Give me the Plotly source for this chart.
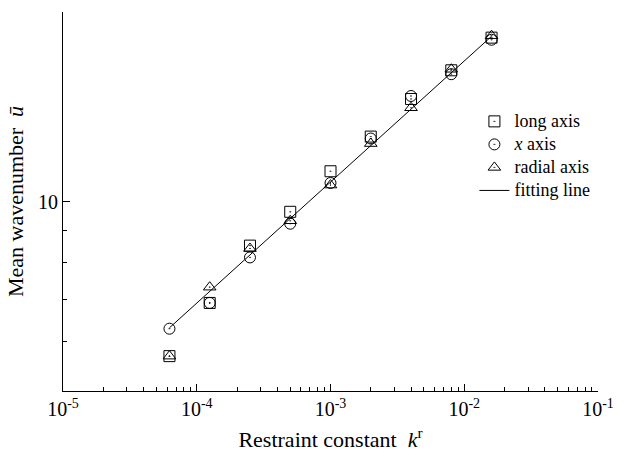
import plotly.graph_objects as go

# ---- data ----
k_r = [6.25e-5, 1.25e-4, 2.5e-4, 5e-4, 1e-3, 2e-3, 4e-3, 8e-3, 1.6e-2]
long_axis = [5.68, 6.90, 8.51, 9.63, 11.17, 12.68, 14.55, 16.16, 18.21]
x_axis = [6.28, 6.90, 8.15, 9.22, 10.70, 12.59, 14.71, 15.93, 18.07]
radial_axis = [5.68, 7.31, 8.42, 9.32, 10.62, 12.36, 14.09, 16.22, 18.34]
fit_k = [6.25e-5, 1.6e-2]
fit_u = [6.3, 18.3]

series_names = ["long axis", "<i>x</i> axis", "radial axis", "fitting line"]

x_tickvals = [1e-5, 1e-4, 1e-3, 1e-2, 1e-1]
x_ticktext = ["10<sup>-5</sup>", "10<sup>-4</sup>", "10<sup>-3</sup>",
              "10<sup>-2</sup>", "10<sup>-1</sup>"]
x_minor = [m * 10.0 ** e for e in range(-5, -1) for m in range(2, 10)]
y_tickvals = [10]
y_ticktext = ["10"]
y_minor = [5, 6, 7, 8, 9, 20]

FONT = "Liberation Serif, Times New Roman, serif"


def lg(name):
    return '<span style="font-size:18px">' + name + "</span>"


fig = go.Figure()
mk = dict(color="black", size=11, line=dict(color="black", width=1))
fig.add_trace(go.Scatter(x=k_r, y=long_axis, mode="markers", name=lg(series_names[0]),
                         marker=dict(symbol="square-open-dot", **mk)))
fig.add_trace(go.Scatter(x=k_r, y=x_axis, mode="markers", name=lg(series_names[1]),
                         marker=dict(symbol="circle-open-dot", **mk)))
fig.add_trace(go.Scatter(x=k_r, y=radial_axis, mode="markers", name=lg(series_names[2]),
                         marker=dict(symbol="triangle-up-open-dot", **mk)))
fig.add_trace(go.Scatter(x=fit_k, y=fit_u, mode="lines", name=lg(series_names[3]),
                         line=dict(color="black", width=1)))

fig.update_layout(
    width=626, height=459,
    margin=dict(l=63, r=27, t=12, b=64),
    paper_bgcolor="white", plot_bgcolor="white",
    font=dict(family=FONT, color="black", size=20),
    showlegend=True,
    legend=dict(x=0.769, y=0.755, xanchor="left", yanchor="top",
                font=dict(family=FONT, size=15.4, color="black"),
                bgcolor="rgba(0,0,0,0)"),
    xaxis=dict(type="log", range=[-5, -1], showline=True, linecolor="black",
               linewidth=1, showgrid=False, zeroline=False,
               tickmode="array", tickvals=x_tickvals, ticktext=x_ticktext,
               ticks="inside", ticklen=7, tickcolor="black",
               tickfont=dict(family=FONT, size=20),
               minor=dict(tickmode="array", tickvals=x_minor, ticks="inside",
                          ticklen=4, tickcolor="black", showgrid=False),
               title=dict(text="Restraint constant\u00a0\u00a0<i>k</i><sup>r</sup>",
                          font=dict(family=FONT, size=22), standoff=12)),
    yaxis=dict(type="log", range=[0.69897, 1.30103], showline=True, linecolor="black",
               linewidth=1, showgrid=False, zeroline=False,
               tickmode="array", tickvals=y_tickvals, ticktext=y_ticktext,
               ticks="inside", ticklen=7, tickcolor="black",
               tickfont=dict(family=FONT, size=20),
               minor=dict(tickmode="array", tickvals=y_minor, ticks="inside",
                          ticklen=4, tickcolor="black", showgrid=False),
               title=dict(text="Mean wavenumber\u00a0\u00a0<i>ū</i>",
                          font=dict(family=FONT, size=22), standoff=8)),
)

fig.write_html("out.html")
